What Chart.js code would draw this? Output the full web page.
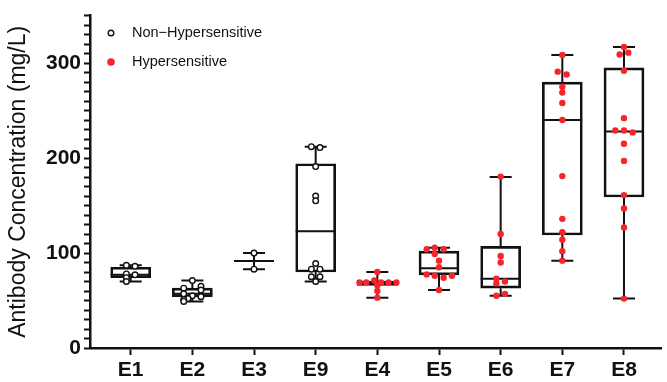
<!DOCTYPE html>
<html>
<head>
<meta charset="utf-8">
<script src="https://cdn.jsdelivr.net/npm/chart.js@4.4.1/dist/chart.umd.min.js"></script>
<style>
  html, body { margin: 0; padding: 0; background: #fff; }
  canvas { display: block; }
</style>
</head>
<body>
<canvas id="antibodyChart" width="667" height="382"></canvas>
<script>
// groups along the x axis, in the order they are plotted
const categories = ['E1', 'E2', 'E3', 'E9', 'E4', 'E5', 'E6', 'E7', 'E8'];
const hypersensitive = [false, false, false, false, true, true, true, true, true];

// box plot summary per group (mg/L)
const boxMin    = [70, 49, 83,   70,  53,   61,    55,  92,    52];
const boxQ1     = [74, 54, 91.5, 80,  66,   77,    63,  119,   159];
const boxMedian = [77, 57, 91.5, 123, 68.5, 84,    73,  240,   228];
const boxQ3     = [85, 63, 91.5, 194, 70.5, 102,   107, 280,   295];
const boxMax    = [87, 71, 100,  212, 80,   105.5, 180, 308.5, 317];

// individual measurements per group, and their sideways spread (in group widths)
const pointValues = [
    [87, 86, 78, 77, 74, 70],
    [71, 65, 63, 61, 57, 55, 54, 52, 51, 49],
    [100, 83],
    [212, 211, 191, 160, 155, 89, 83, 83, 75, 75, 70],
    [80, 71, 69, 69, 69, 69, 69, 66, 60, 53],
    [104, 105.5, 104, 99, 92, 85, 77.5, 76, 74, 76, 61],
    [180.5, 120, 97, 90, 73, 68, 70, 55, 57],
    [308.5, 291, 288, 275, 269, 258, 240, 181, 136, 122, 114, 102, 92],
    [317, 309, 311, 292, 242, 229, 229, 227, 215, 197, 161, 147, 127, 52]
];
const pointJitter = [
    [-0.07, 0.07, -0.07, 0.07, -0.07, -0.07],
    [0, 0.14, -0.14, 0.14, -0.14, 0, 0.14, -0.07, -0.14, -0.14],
    [0, 0],
    [-0.07, 0.07, 0, 0, 0, 0, -0.07, 0.07, -0.07, 0.07, 0],
    [0, -0.05, -0.29, -0.18, 0.06, 0.18, 0.31, 0, 0, 0],
    [-0.2, -0.07, 0.075, -0.07, 0, 0, -0.2, -0.07, 0.075, 0.21, 0],
    [0, 0, 0, 0, -0.07, -0.07, 0.07, -0.07, 0.07],
    [0, -0.075, 0.07, 0, 0, 0, 0, 0, 0, 0, 0, 0, 0],
    [0, -0.07, 0.07, 0, 0, -0.14, 0, 0.14, 0, 0, 0, 0, 0, 0]
];

const RED = '#f4262b';
const FONT = "'Liberation Sans', Arial, sans-serif";

// split the points into the two legend groups
let plainPoints = [];
let redPoints = [];
for (let i = 0; i < categories.length; i++) {
    for (let j = 0; j < pointValues[i].length; j++) {
        let p = { x: i + pointJitter[i][j], y: pointValues[i][j] };
        if (hypersensitive[i]) redPoints.push(p); else plainPoints.push(p);
    }
}

// boxes as floating bars from Q1 to Q3 (E3 has no box, only n = 2)
let boxData = [];
for (let i = 0; i < categories.length; i++) {
    if (boxQ1[i] !== boxQ3[i]) boxData.push({ x: i, y: [boxQ1[i], boxQ3[i]] });
}

// whiskers, caps and median lines, placed with the chart's own scales
const whiskers = {
    id: 'whiskers',
    beforeDatasetsDraw: function(chart) {
        const ctx = chart.ctx, xs = chart.scales.x, ys = chart.scales.y;
        ctx.save();
        ctx.strokeStyle = '#111';
        ctx.lineWidth = 2;
        for (let i = 0; i < categories.length; i++) {
            const cx = xs.getPixelForValue(i);
            const yMin = ys.getPixelForValue(boxMin[i]);
            const yMax = ys.getPixelForValue(boxMax[i]);
            const yQ1 = ys.getPixelForValue(boxQ1[i]);
            const yQ3 = ys.getPixelForValue(boxQ3[i]);
            const yMed = ys.getPixelForValue(boxMedian[i]);
            ctx.beginPath();
            ctx.moveTo(cx, yMin); ctx.lineTo(cx, yQ1);
            ctx.moveTo(cx, yQ3); ctx.lineTo(cx, yMax);
            ctx.moveTo(cx - 11, yMin); ctx.lineTo(cx + 11, yMin);
            ctx.moveTo(cx - 11, yMax); ctx.lineTo(cx + 11, yMax);
            ctx.moveTo(cx - 20, yMed); ctx.lineTo(cx + 20, yMed);
            ctx.stroke();
        }
        ctx.restore();
    }
};

// small legend inside the plot, top left
const insideLegend = {
    id: 'insideLegend',
    afterDraw: function(chart) {
        const ctx = chart.ctx;
        ctx.save();
        ctx.font = '14.5px ' + FONT;
        ctx.textBaseline = 'middle';

        ctx.beginPath();
        ctx.arc(111, 33, 2.8, 0, Math.PI * 2);
        ctx.fillStyle = '#fff';
        ctx.fill();
        ctx.lineWidth = 1.4;
        ctx.strokeStyle = '#111';
        ctx.stroke();
        ctx.fillStyle = '#111';
        ctx.fillText('Non\u2212Hypersensitive', 132, 33);

        ctx.beginPath();
        ctx.arc(111, 62, 3.8, 0, Math.PI * 2);
        ctx.fillStyle = RED;
        ctx.fill();
        ctx.fillStyle = '#111';
        ctx.fillText('Hypersensitive', 132, 62);
        ctx.restore();
    }
};

new Chart(document.getElementById('antibodyChart'), {
    type: 'bar',
    plugins: [whiskers, insideLegend],
    data: {
        datasets: [
            {
                type: 'scatter',
                label: 'Non-Hypersensitive',
                data: plainPoints,
                pointRadius: 2.8,
                pointBorderWidth: 1.4,
                pointBackgroundColor: '#fff',
                pointBorderColor: '#111'
            },
            {
                type: 'scatter',
                label: 'Hypersensitive',
                data: redPoints,
                pointRadius: 3.2,
                pointBorderWidth: 0,
                pointBackgroundColor: RED,
                pointBorderColor: RED
            },
            {
                type: 'bar',
                label: 'box',
                data: boxData,
                barThickness: 40,
                borderWidth: 2,
                borderColor: '#111',
                backgroundColor: 'rgba(0,0,0,0)',
                borderSkipped: false
            }
        ]
    },
    options: {
        responsive: false,
        animation: false,
        layout: { padding: { top: 14, right: 0, left: 0, bottom: 0 } },
        plugins: {
            legend: { display: false },
            tooltip: { enabled: false }
        },
        scales: {
            x: {
                type: 'linear',
                min: -0.66,
                max: 8.61,
                offset: false,
                afterBuildTicks: function(axis) {
                    axis.ticks = categories.map((c, i) => ({ value: i }));
                },
                afterFit: function(scale) { scale.height = 34; },
                ticks: {
                    autoSkip: false,
                    maxRotation: 0,
                    padding: 3,
                    color: '#111',
                    font: { family: FONT, size: 21, weight: 'bold' },
                    callback: function(value) { return categories[value]; }
                },
                grid: {
                    drawOnChartArea: false,
                    drawTicks: true,
                    tickLength: 7,
                    tickWidth: 2,
                    tickColor: '#111',
                    offset: false
                },
                border: { display: true, color: '#111', width: 2.5 }
            },
            y: {
                min: 0,
                max: 350,
                afterFit: function(scale) { scale.width = 90; },
                ticks: {
                    stepSize: 10,
                    autoSkip: false,
                    padding: 3,
                    color: '#111',
                    font: { family: FONT, size: 21, weight: 'bold' },
                    callback: function(value) { return value % 100 === 0 ? value : ''; }
                },
                grid: {
                    drawOnChartArea: false,
                    drawTicks: true,
                    tickLength: 6,
                    tickWidth: 2,
                    tickColor: '#111'
                },
                border: { display: true, color: '#111', width: 2.5 },
                title: {
                    display: true,
                    text: 'Antibody Concentration (mg/L)',
                    color: '#111',
                    font: { family: FONT, size: 23 },
                    padding: { top: 5, bottom: 0 }
                }
            }
        }
    }
});
</script>
</body>
</html>
